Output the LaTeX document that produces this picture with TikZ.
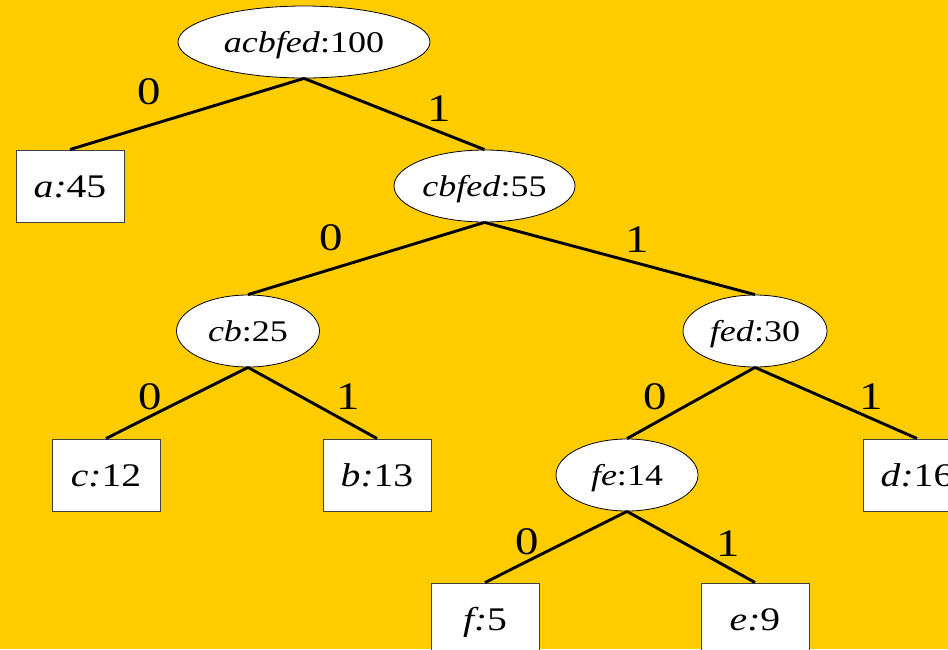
\documentclass[tikz,border=0pt]{standalone}
\usepackage{fontspec}
\setmainfont[FakeStretch=1.2]{Liberation Serif}
\usepackage{tikz}
\usetikzlibrary{shapes.geometric}
\definecolor{slidebg}{RGB}{255, 204, 0}
\tikzstyle{merged} = [ellipse, draw=black, line width=0.8pt, fill=white, inner sep=0pt, minimum height=72pt, text height=20pt, text depth=0pt, font=\fontsize{30}{30}\selectfont]
\tikzstyle{leaf} = [rectangle, draw=black!75, line width=1pt, fill=white, inner sep=0pt, minimum width=108pt, minimum height=72pt, text height=22pt, text depth=0pt, font=\fontsize{33}{33}\selectfont]
\tikzstyle{edge} = [line width=2.9pt]
\tikzstyle{bit} = [inner sep=0pt, font=\fontsize{39}{39}\selectfont]

\begin{document}
\begin{tikzpicture}[x=1pt, y=-1pt]
    % Background
    \useasboundingbox (0, 0) rectangle (948, 649);
    \clip (0, 0) rectangle (948, 649);
    \fill[slidebg] (0, 0) rectangle (948, 649);

    % Merged nodes
    \node[merged, minimum width=252pt] (root) at (304, 42) {\textit{acbfed}:100};
    \node[merged, minimum width=181pt] (cbfed) at (484.5, 186) {\textit{cbfed}:55};
    \node[merged, minimum width=143pt] (cb) at (248, 331) {\textit{cb}:25};
    \node[merged, minimum width=144pt] (fed) at (755, 331) {\textit{fed}:30};
    \node[merged, minimum width=142pt] (fe) at (627, 475) {\textit{fe}:14};

    % Leaves
    \node[leaf] (a) at (70, 186) {\textit{a:}45};
    \node[leaf] (c) at (106, 475) {\textit{c:}12};
    \node[leaf] (b) at (377, 475) {\textit{b:}13};
    \node[leaf] (d) at (917, 475) {\textit{d:}16};
    \node[leaf] (f) at (485, 619) {\textit{f:}5};
    \node[leaf] (e) at (755, 619) {\textit{e:}9};

    % Edges with bits
    \draw[edge] (root.south) -- node[bit, pos=.66, above=19pt] {0} (a.north);
    \draw[edge] (root.south) -- node[bit, pos=.75, above=9pt] {1} (cbfed.north);
    \draw[edge] (cbfed.south) -- node[bit, pos=.65, above=17pt] {0} (cb.north);
    \draw[edge] (cbfed.south) -- node[bit, pos=.565, above=9pt] {1} (fed.north);
    \draw[edge] (cb.south) -- node[bit, pos=.69, above=5pt] {0} (c.north);
    \draw[edge] (cb.south) -- node[bit, pos=.775, above=12pt] {1} (b.north);
    \draw[edge] (fed.south) -- node[bit, pos=.78, above=12pt] {0} (fe.north);
    \draw[edge] (fed.south) -- node[bit, pos=.72, above=8pt] {1} (d.north);
    \draw[edge] (fe.south) -- node[bit, pos=.70, above=5pt] {0} (f.north);
    \draw[edge] (fe.south) -- node[bit, pos=.79, above=10pt] {1} (e.north);
\end{tikzpicture}
\end{document}
